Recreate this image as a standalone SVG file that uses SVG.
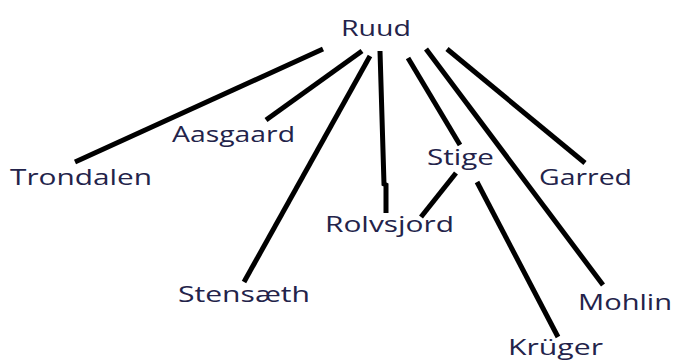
<svg xmlns="http://www.w3.org/2000/svg" width="677" height="361" viewBox="0 0 677 361">
  <style>
    .edge { stroke: #000; stroke-width: 5; stroke-linecap: butt; fill: none; }
    .label { font-family: "Open Sans", "Noto Sans", "Liberation Sans", sans-serif; font-size: 21px; font-weight: 500; fill: #23234a; }
  </style>
  <rect width="677" height="361" fill="#fff"/>
  <g id="connectors">
    <line class="edge" x1="323" y1="49" x2="75" y2="162"/>
    <line class="edge" x1="362" y1="51" x2="266" y2="120"/>
    <line class="edge" x1="370" y1="56" x2="244" y2="282"/>
    <polyline class="edge" points="380,51 384,184 386,185 386,213"/>
    <line class="edge" x1="408" y1="58" x2="460" y2="145"/>
    <line class="edge" x1="426" y1="49" x2="603" y2="285"/>
    <line class="edge" x1="447" y1="49" x2="585" y2="163"/>
    <line class="edge" x1="456" y1="173" x2="421" y2="217"/>
    <line class="edge" x1="477" y1="182" x2="558" y2="337"/>
  </g>
  <g id="node-ruud"><text class="label" x="341" y="36" textLength="70" lengthAdjust="spacingAndGlyphs">Ruud</text></g>
  <g id="node-trondalen"><text class="label" x="10" y="185" textLength="142" lengthAdjust="spacingAndGlyphs">Trondalen</text></g>
  <g id="node-aasgaard"><text class="label" x="172" y="142" textLength="123" lengthAdjust="spacingAndGlyphs">Aasgaard</text></g>
  <g id="node-stensaeth"><text class="label" x="178" y="302" textLength="132" lengthAdjust="spacingAndGlyphs">Stensæth</text></g>
  <g id="node-rolvsjord"><text class="label" x="325" y="232" textLength="129" lengthAdjust="spacingAndGlyphs">Rolvsjord</text></g>
  <g id="node-stige"><text class="label" x="427" y="165" textLength="67" lengthAdjust="spacingAndGlyphs">Stige</text></g>
  <g id="node-garred"><text class="label" x="539" y="185" textLength="93" lengthAdjust="spacingAndGlyphs">Garred</text></g>
  <g id="node-mohlin"><text class="label" x="578" y="310" textLength="94" lengthAdjust="spacingAndGlyphs">Mohlin</text></g>
  <g id="node-kruger"><text class="label" x="508" y="355" textLength="95" lengthAdjust="spacingAndGlyphs">Krüger</text></g>
</svg>
